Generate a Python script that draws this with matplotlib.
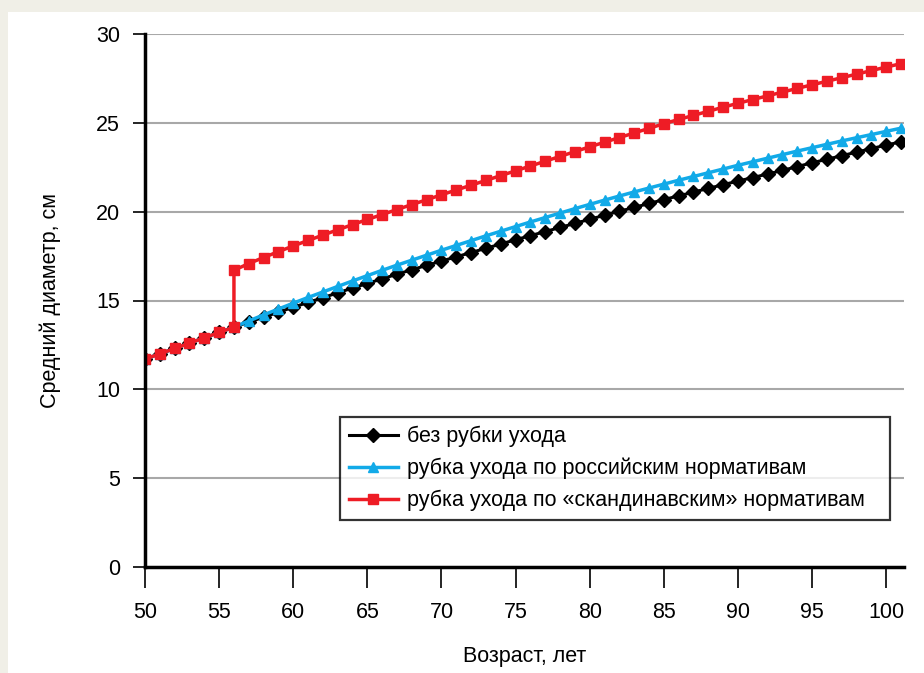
import matplotlib
matplotlib.use("Agg")
import matplotlib.pyplot as plt
from matplotlib.patches import Rectangle

plt.rcParams['font.family'] = ['Liberation Sans', 'DejaVu Sans']

ages = list(range(50, 102))

no_thinning = [11.7, 12.0, 12.3, 12.6, 12.9, 13.2, 13.5, 13.78, 14.06, 14.34,
               14.62, 14.89, 15.16, 15.43, 15.7, 15.96, 16.22, 16.48, 16.73, 16.98,
               17.22, 17.46, 17.7, 17.94, 18.18, 18.42, 18.65, 18.88, 19.11, 19.34,
               19.57, 19.8, 20.02, 20.24, 20.46, 20.68, 20.89, 21.1, 21.31, 21.52,
               21.72, 21.92, 22.12, 22.32, 22.54, 22.75, 22.95, 23.15, 23.35, 23.55,
               23.75, 23.93]

russian = [11.7, 12.0, 12.3, 12.6, 12.9, 13.2, 13.5, 13.85, 14.19, 14.52,
           14.85, 15.17, 15.48, 15.79, 16.1, 16.4, 16.7, 16.99, 17.27, 17.55,
           17.83, 18.1, 18.37, 18.64, 18.9, 19.16, 19.42, 19.67, 19.92, 20.17,
           20.41, 20.65, 20.88, 21.11, 21.33, 21.55, 21.77, 21.98, 22.19, 22.4,
           22.61, 22.81, 23.01, 23.21, 23.41, 23.6, 23.79, 23.98, 24.16, 24.34,
           24.52, 24.7]

# Scandinavian: same as others up to 56, then a jump at age 56
scand_ages = list(range(50, 57)) + list(range(56, 102))
scandinavian = [11.7, 12.0, 12.3, 12.6, 12.9, 13.2, 13.5,
                16.7, 17.08, 17.42, 17.75, 18.07, 18.38, 18.68, 18.98, 19.27, 19.56,
                19.84, 20.12, 20.4, 20.67, 20.95, 21.22, 21.49, 21.76, 22.03, 22.3,
                22.57, 22.84, 23.11, 23.38, 23.65, 23.91, 24.17, 24.43, 24.69, 24.95,
                25.19, 25.42, 25.65, 25.88, 26.1, 26.31, 26.52, 26.73, 26.94, 27.14,
                27.34, 27.54, 27.74, 27.94, 28.14, 28.33]

labels = ["без рубки ухода",
          "рубка ухода по российским нормативам",
          "рубка ухода по «скандинавским» нормативам"]

FS = 15.5

fig = plt.figure(figsize=(9.24, 6.73), dpi=100)
fig.patch.set_facecolor('#f0efe7')
panel = Rectangle((8/924, 0), 1, (673-12)/673, transform=fig.transFigure,
                  facecolor='white', edgecolor='none', zorder=-10)
fig.patches.append(panel)

ax = fig.add_axes([145/924, (673-567)/673, (904-145)/924, (567-34)/673])
ax.set_zorder(1)
ax.set_facecolor('white')

ax.plot(ages, no_thinning, color='black', lw=2.2, marker='D', ms=6.8,
        label=labels[0], zorder=3)
ax.plot(ages, russian, color='#12aae8', lw=2.5, marker='^', ms=7.8,
        label=labels[1], zorder=4)
ax.plot(scand_ages, scandinavian, color='#ee1c25', lw=2.5, marker='s', ms=7.8,
        label=labels[2], zorder=5)

ax.set_xlim(50, 101.2)
ax.set_ylim(0, 30)
ax.set_xticks(range(50, 101, 5))
ax.set_yticks(range(0, 31, 5))

for y in range(5, 31, 5):
    ax.axhline(y, color='#a8a8a8', lw=1.5, zorder=1)

for s in ['top', 'right']:
    ax.spines[s].set_visible(False)
for s in ['left', 'bottom']:
    ax.spines[s].set_linewidth(2.5)
    ax.spines[s].set_color('black')
    ax.spines[s].set_zorder(6)

ax.tick_params(axis='y', direction='out', length=9, width=1.2, pad=9, labelsize=FS)
ax.tick_params(axis='x', direction='out', length=15, width=1.2, pad=10, labelsize=FS)

ax.set_xlabel("Возраст, лет", fontsize=FS, labelpad=17)
ax.set_ylabel("Средний диаметр, см", fontsize=FS, labelpad=25)

leg = ax.legend(loc='lower left', bbox_to_anchor=(0.257, 0.088, 0.7245, 0.193),
                mode='expand', fontsize=FS, frameon=True, fancybox=False,
                borderpad=0.4, labelspacing=0.5, handlelength=2.3,
                handletextpad=0.4, borderaxespad=0)
leg.get_frame().set_edgecolor('black')
leg.get_frame().set_linewidth(1.6)
leg.set_zorder(10)

fig.savefig("out.png", dpi=100, facecolor=fig.get_facecolor())
